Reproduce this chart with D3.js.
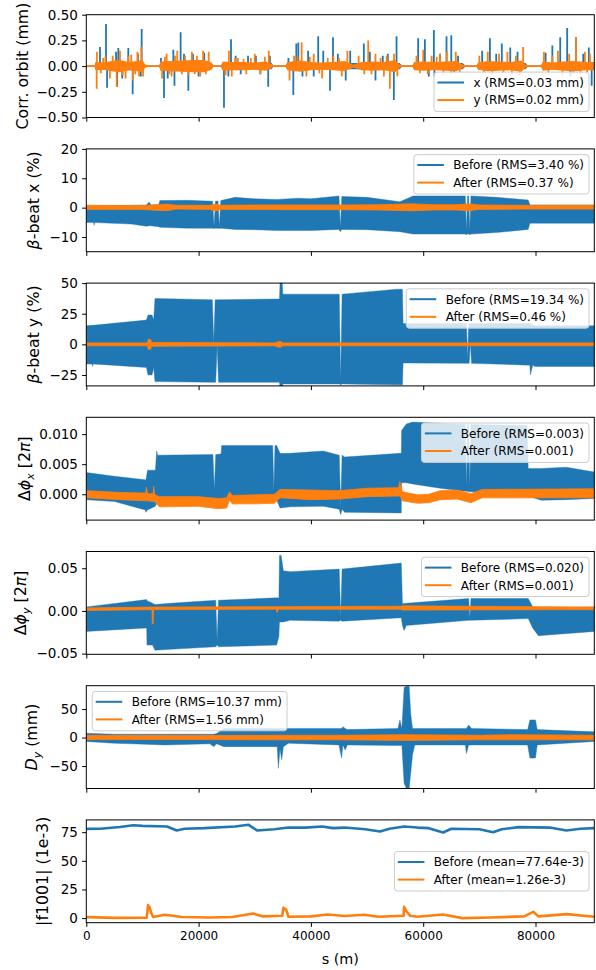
<!DOCTYPE html>
<html>
<head>
<meta charset="utf-8">
<script src="https://cdn.jsdelivr.net/npm/d3@7"></script>
<style>
  body { margin: 0; background: #fff; }
  text { font-family: "DejaVu Sans", sans-serif; fill: #000; }
</style>
</head>
<body>
<script>
// ---- data ----
var sMax = 90470;
var sTicks = [0, 20000, 40000, 60000, 80000];

// corrector orbit: noise envelope [s, amplitude] and the larger spikes [s, value]
var orbitXEnv = [
  [0, 0.006], [1500, 0.006], [1600, 0.03], [6000, 0.04], [10000, 0.04], [10500, 0.006], [13000, 0.006],
  [13200, 0.03], [18000, 0.04], [22300, 0.03], [22600, 0.006], [24000, 0.006], [24300, 0.03], [33000, 0.03],
  [33300, 0.006], [35500, 0.006], [35800, 0.03], [47500, 0.03], [49000, 0.03], [55800, 0.03], [56200, 0.006],
  [58100, 0.006], [58400, 0.03], [67000, 0.03], [67500, 0.006], [69500, 0.006], [69800, 0.03], [78200, 0.03],
  [78600, 0.006], [81000, 0.006], [81300, 0.03], [90470, 0.03]
];
var orbitYEnv = [
  [0, 0.008], [1500, 0.008], [1600, 0.04], [3000, 0.035], [4500, 0.05], [6000, 0.06], [7500, 0.04],
  [9000, 0.05], [10000, 0.06], [10500, 0.015], [11000, 0.008], [13000, 0.008], [13200, 0.045], [15000, 0.05],
  [17000, 0.055], [19000, 0.06], [21000, 0.06], [22300, 0.035], [22600, 0.008], [24000, 0.008], [24300, 0.045],
  [26000, 0.04], [28000, 0.04], [30000, 0.035], [32000, 0.045], [33000, 0.02], [33300, 0.008], [35500, 0.008],
  [35800, 0.04], [38000, 0.055], [40000, 0.04], [42000, 0.035], [44000, 0.04], [46000, 0.05], [47500, 0.015],
  [48000, 0.02], [49000, 0.04], [51000, 0.045], [53000, 0.04], [55000, 0.06], [55800, 0.015], [56200, 0.008],
  [58100, 0.008], [58400, 0.04], [60000, 0.045], [62000, 0.04], [64000, 0.045], [66000, 0.05], [67000, 0.015],
  [67500, 0.008], [69500, 0.008], [69800, 0.035], [71500, 0.05], [73500, 0.045], [75500, 0.04], [77500, 0.055],
  [78200, 0.015], [78600, 0.008], [81000, 0.008], [81300, 0.045], [83000, 0.035], [85000, 0.045], [87000, 0.05],
  [89000, 0.04], [90470, 0.04]
];
var orbitXSpikes = [
  [2440, 0.185], [3510, 0.41], [3700, -0.21], [5300, 0.14], [5500, -0.2], [5700, 0.175], [6400, -0.12],
  [7480, 0.175], [8260, -0.275], [9200, 0.12], [9700, -0.1], [9860, 0.36],
  [13300, 0.08], [13840, -0.31], [14500, -0.12], [15500, 0.16], [15700, -0.19], [16800, 0.33], [17400, 0.12],
  [18170, -0.24], [19000, 0.12], [20000, -0.1], [21000, 0.13],
  [24520, -0.405], [25300, -0.1], [25770, 0.26], [26600, 0.1], [27500, -0.08], [28800, 0.1], [30200, 0.1],
  [31000, -0.08], [32400, -0.2], [32700, 0.1],
  [36000, 0.08], [36870, -0.28], [37400, 0.22], [37760, 0.23], [38500, -0.1], [39500, 0.15], [40500, -0.1],
  [41300, 0.29], [42200, 0.15], [43400, -0.24], [43930, 0.28], [44800, 0.12], [46200, -0.14], [47000, 0.15],
  [49430, 0.22], [50500, 0.14], [51500, -0.14], [52800, 0.1], [53700, 0.12], [54770, -0.33], [55250, 0.29],
  [59100, 0.27], [60300, 0.26], [61000, -0.1], [61900, 0.35], [62000, -0.1], [63000, 0.12], [64150, 0.29],
  [65000, 0.3], [65500, -0.06], [66200, 0.1],
  [70500, 0.15], [71880, 0.27], [73000, 0.12], [74000, 0.22], [75500, 0.18], [76800, 0.14],
  [81800, 0.13], [83000, 0.2], [84400, 0.28], [85640, 0.37], [86200, -0.1], [87200, 0.28], [88500, 0.12],
  [89500, 0.18], [90000, -0.19]
];
var orbitYSpikes = [
  [1850, -0.22], [1900, 0.14], [2600, -0.07], [3000, 0.08], [3400, 0.09], [4200, -0.12], [4700, 0.1],
  [5410, -0.2], [6000, 0.15], [6500, -0.09], [7000, -0.12], [7500, 0.1], [8000, 0.11], [8300, -0.14],
  [8700, -0.08], [9100, 0.14], [9400, -0.1], [9800, 0.185], [10100, -0.1],
  [13500, -0.12], [14000, 0.09], [14300, 0.12], [14800, -0.08], [15200, -0.1], [15800, 0.1], [16200, 0.15],
  [17000, -0.08], [17600, 0.1], [18200, -0.09], [18800, 0.14], [19300, -0.08], [19700, 0.1], [20300, -0.1],
  [20800, 0.15], [21300, -0.08], [21800, 0.14],
  [24800, -0.09], [25400, 0.15], [25900, -0.1], [26500, 0.08], [27000, 0.08], [28000, 0.07], [28500, -0.08],
  [29300, 0.08], [30000, 0.12], [31000, -0.08], [31800, 0.09], [32500, 0.15],
  [36200, -0.14], [37000, 0.1], [37600, 0.1], [38350, 0.23], [39200, -0.1], [39800, 0.09], [40500, 0.12],
  [41500, -0.07], [42000, -0.12], [43000, 0.08], [44000, 0.1], [45000, 0.08], [45500, -0.1], [46500, 0.15],
  [48500, 0.1], [49500, -0.08], [50200, 0.25], [50800, -0.08], [51500, 0.12], [52400, 0.08], [53000, -0.1],
  [53500, 0.1], [54070, -0.22], [54800, 0.12], [55400, -0.1],
  [58800, 0.1], [59400, -0.07], [60000, 0.16], [60800, -0.08], [61500, 0.1], [62400, 0.09], [63000, 0.12],
  [63600, -0.08], [64200, 0.14], [65000, -0.08], [65800, 0.14], [66500, -0.06],
  [70000, 0.1], [70800, -0.07], [71500, 0.14], [72300, -0.08], [73500, 0.12], [74300, -0.07], [75000, 0.14],
  [75800, -0.08], [76500, 0.1], [77200, -0.09], [77800, 0.185],
  [81500, 0.14], [82300, -0.08], [83000, 0.1], [84000, 0.15], [84800, -0.09], [86000, 0.12], [86700, -0.08],
  [87200, 0.28], [88000, -0.08], [88800, 0.14], [89200, -0.07], [89700, 0.12]
];

// envelopes of the dense signals: [s, low, high]
var betaXBefore = [
  [0, -5.1, 0.6], [1300, -5.1, 0.6], [1400, -6, 0.6], [1500, -5.1, 0.6], [8000, -5.6, 0.8], [10700, -6.3, 0.9],
  [11200, -6.2, 1.9], [11500, -6.2, 0.9], [12900, -6.5, 1.0], [13100, -6.7, 2.4], [18000, -7.0, 2.5],
  [22500, -7.0, 2.2], [22750, -7.1, -6.4], [23000, -7.0, 2.2], [23450, -7.0, 2.3], [23700, -7.1, -6.4],
  [23950, -7.0, 2.4], [26500, -7.4, 3.5], [30000, -7.5, 3.0], [34000, -7.8, 2.8], [37700, -7.8, 3.2],
  [40000, -7.8, 3.0], [45000, -7.4, 4.0], [45250, -8.2, -6.8], [45500, -7.4, 3.8], [50000, -7.5, 3.5],
  [55850, -8.2, 2.0], [58200, -9.0, 4.0], [65000, -9.0, 4.0], [67500, -9.0, 4.0], [67700, -9.2, -7.8],
  [67900, -9.0, 4.0], [68100, -9.0, 4.0], [68300, -9.2, -7.8], [68500, -9.0, 4.0],
  [73080, -8.5, 3.5], [78700, -7.4, 2.6], [79000, -5.3, 0.9], [90470, -5.3, 0.9]
];
var betaXAfter = [
  [0, -0.6, 0.8], [10000, -0.6, 0.7], [13000, -1.0, 1.1], [14500, -1.0, 1.2], [16000, -0.5, 0.8],
  [22000, -0.6, 0.8], [23000, -1.2, 1.2], [24000, -0.6, 0.8], [30000, -0.6, 0.9], [36280, -0.7, 0.9],
  [45000, -0.7, 0.9], [52000, -0.8, 1.0], [58000, -1.1, 1.3], [62000, -0.8, 1.0], [66000, -0.8, 1.0],
  [68000, -1.1, 1.3], [70000, -0.6, 0.9], [79000, -0.5, 0.8], [90470, -0.5, 0.8]
];
var betaYBefore = [
  [0, -16, 15.2], [1000, -16, 15.5], [1100, -18, 15.5], [1200, -16, 15.5], [10700, -18.8, 19.8],
  [11000, -25, 24], [11700, -25, 24], [12000, -19, 20], [12230, -30.4, 37.5], [22450, -31, 36.4],
  [22700, -31, 1], [22950, -31, 36.4], [23050, -31, 36.4], [23300, -1, 36.4], [23550, -31, 36.4],
  [33900, -31, 37], [34400, -31, 37], [34500, -35, 50], [34900, -35, 50], [35000, -32.3, 41],
  [45050, -32.3, 41], [45300, -33, -30], [45550, -32.3, 41], [55250, -33, 45], [56300, -33, 45],
  [56420, -15.2, 17], [67700, -15.5, 17], [67900, -15.5, -12], [68100, -15.5, 17], [68200, -15.5, 17],
  [68400, 2, 17], [68600, -15.5, 17],
  [79000, -17, 17], [79100, -25, 17], [79500, -17, 16], [79900, -18, 15.2], [90470, -18, 15.2]
];
var betaYAfter = [
  [0, -1.2, 1.2], [10900, -1.2, 1.2], [11000, -4, 4], [11500, -4, 4], [11600, -1.5, 1.5],
  [33500, -1.2, 1.2], [34500, -2.5, 2.5], [35000, -1.2, 1.2], [90470, -1.2, 1.2]
];
var dphiXBefore = [
  [0, -0.0009, 0.0036], [5000, -0.0012, 0.0030], [10500, -0.0026, 0.0024], [10600, -0.0030, 0.0023],
  [10900, -0.0026, 0.0040], [12300, -0.0020, 0.0040], [12530, -0.0015, 0.0072], [12700, -0.0014, 0.0065],
  [22550, -0.0014, 0.0066], [22800, -0.0014, 0.0007], [23050, -0.0014, 0.0066],
  [24000, -0.0010, 0.0067], [24100, -0.0009, 0.0081], [33200, -0.0009, 0.0081], [33400, -0.0009, 0.0005],
  [33600, -0.0009, 0.0081], [33900, -0.0009, 0.0081],
  [34500, -0.0023, 0.0068], [36300, -0.0021, 0.0068], [42200, -0.0020, 0.0072], [45050, -0.0025, 0.0065],
  [45300, -0.0034, -0.0022], [45550, -0.0025, 0.0065],
  [46000, -0.0030, 0.0062], [55850, -0.0031, 0.0068], [56100, -0.0031, 0.0068], [56150, 0.0019, 0.0106],
  [57000, 0.0019, 0.0117], [58100, 0.0017, 0.0120], [63000, 0.0010, 0.0118], [67500, 0.0005, 0.0116],
  [67700, 0.0005, 0.0012], [67900, 0.0005, 0.0116], [68100, 0.0004, 0.0116], [68300, 0.0004, 0.0012],
  [68500, 0.0004, 0.0116],
  [78500, 0.0000, 0.0114], [78700, -0.0003, 0.0043], [81000, -0.0010, 0.0043], [85500, -0.0009, 0.0045],
  [90470, -0.0007, 0.0037]
];
var dphiXAfter = [
  [0, -0.0006, 0.0006], [6000, -0.0009, 0.0003], [10600, -0.0011, 0.0002], [10700, -0.0011, 0.0012],
  [10900, -0.0011, 0.0001], [11900, -0.0012, 0.0001], [12000, -0.0012, 0.0013], [12200, -0.0013, -0.0001],
  [13000, -0.0021, -0.0004], [20000, -0.0020, -0.0004], [23500, -0.0024, -0.0007], [25000, -0.0023, -0.0006],
  [25500, -0.0010, 0.0004], [26000, -0.0016, -0.0002], [30000, -0.0016, -0.0001], [33500, -0.0015, 0.0000],
  [34500, -0.0006, 0.0008], [40000, -0.0009, 0.0007], [45000, -0.0008, 0.0006], [50000, -0.0004, 0.0010],
  [55600, -0.0003, 0.0011], [55850, -0.0003, 0.0021], [56300, -0.0011, 0.0004], [59000, -0.0015, -0.0001],
  [61000, -0.0014, 0.0000], [63000, -0.0009, 0.0006], [66000, -0.0008, 0.0007], [68500, -0.0014, 0.0001],
  [70500, -0.0006, 0.0008], [90470, -0.0006, 0.0009]
];
var dphiYBefore = [
  [0, -0.024, 0.0047], [10750, -0.020, 0.0133], [10800, -0.040, 0.012], [11800, -0.040, 0.009],
  [12230, -0.046, 0.0075], [15000, -0.045, 0.009], [23050, -0.042, 0.0125], [23300, -0.040, -0.035],
  [23550, -0.042, 0.0125], [33900, -0.040, 0.0153],
  [34300, -0.030, 0.015], [34400, -0.013, 0.065], [34700, -0.013, 0.065], [35100, -0.013, 0.047],
  [36300, -0.011, 0.046], [45050, -0.012, 0.049], [45300, -0.011, -0.008], [45550, -0.012, 0.049],
  [56100, -0.008, 0.056], [56300, -0.017, 0.0086],
  [56600, -0.023, 0.0086], [57000, -0.017, 0.009], [68100, -0.011, 0.0145], [68300, -0.011, -0.009],
  [68500, -0.011, 0.0145], [78700, -0.009, 0.0145],
  [79500, -0.020, 0.005], [80500, -0.029, 0.0027], [90470, -0.024, 0.0047]
];
var dphiYAfter = [
  [0, 0.0005, 0.0035], [11700, 0.0015, 0.0045], [11750, -0.015, 0.0045], [11900, -0.015, 0.0045],
  [12000, 0.0015, 0.0045], [33800, 0.002, 0.005], [34000, -0.002, 0.005], [34200, 0.002, 0.005],
  [56000, 0.002, 0.0055], [56300, 0.001, 0.006], [90470, 0.0015, 0.0045]
];
var dispYBefore = [
  [0, -7, 7.6], [5000, -10, 5.9], [8000, -11, 5.9], [14000, -13, 5.9], [22000, -11, 6], [22700, -16, 6],
  [23200, -11, 7], [24500, -16, 16], [34000, -16, 16], [34200, -54, 16], [34500, -20, 16], [34800, -39, 16],
  [35100, -16, 16], [36000, -10, 16], [45000, -13, 16], [45460, -36, 16], [45700, -13, 19], [46100, -22, 16],
  [46500, -13, 14], [55500, -14, 16], [55850, -14, 31], [56200, -14, 16], [56600, -80, 88], [57000, -89, 90],
  [57500, -89, 90], [57800, -60, 40], [58100, -30, 16], [58500, -13, 16], [67500, -13, 16], [67700, -28, 16],
  [68100, -13, 22], [68600, -13, 16], [78600, -13, 14], [79000, -36, 31], [80000, -36, 31], [80300, -13, 14],
  [90470, -7, 10]
];
var dispYAfter = [
  [0, -3.5, 4], [10000, -3.5, 3.5], [20000, -3.5, 3.5], [34000, -4, 4], [45000, -4, 4], [57000, -5, 5],
  [70000, -4, 4], [76000, -4, 5], [90470, -4, 4]
];
var f1001Before = [
  [0, 77.9], [2500, 78], [6000, 79.5], [8370, 81.1], [10000, 80.5], [14370, 80], [16100, 76.5], [17500, 78],
  [21000, 78.5], [26500, 80], [28900, 81.4], [30400, 76.5], [33500, 77.5], [36000, 79], [39000, 79],
  [42000, 80], [43930, 78.5], [46000, 79], [49700, 77.5], [52300, 75.6], [54000, 78], [56600, 80], [59000, 79],
  [61000, 78.5], [63550, 74.7], [65000, 78], [70000, 77.5], [72450, 75], [74000, 77.5], [77000, 79.4],
  [82550, 79], [85500, 76.5], [88000, 78], [90470, 78.5]
];
var f1001After = [
  [0, 0.9], [5000, 0.2], [10750, 0.3], [11000, 11.3], [11300, 9], [11600, 4], [11900, 1], [14000, 2.9],
  [17000, 1], [22000, 0.5], [26000, 1], [29700, 4], [31500, 1.5], [34900, 2], [35100, 9], [35600, 7.5],
  [36000, 1.2], [40000, 1.5], [43000, 3.2], [46000, 1.8], [49500, 2.9], [52000, 1.2], [56500, 2], [56600, 9.8],
  [57000, 6], [57700, 2], [59000, 1.2], [63500, 3.2], [67000, 0], [72000, 0.6], [78000, 1.5], [79600, 5.5],
  [80500, 1.5], [85500, 3.5], [90470, 1.2]
];

var legendOrbit = ["x (RMS=0.03 mm)", "y (RMS=0.02 mm)"];
var legendBetaX = ["Before (RMS=3.40 %)", "After (RMS=0.37 %)"];
var legendBetaY = ["Before (RMS=19.34 %)", "After (RMS=0.46 %)"];
var legendDphiX = ["Before (RMS=0.003)", "After (RMS=0.001)"];
var legendDphiY = ["Before (RMS=0.020)", "After (RMS=0.001)"];
var legendDispY = ["Before (RMS=10.37 mm)", "After (RMS=1.56 mm)"];
var legendF1001 = ["Before (mean=77.64e-3)", "After (mean=1.26e-3)"];

var ticksOrbit = [-0.5, -0.25, 0, 0.25, 0.5];
var ticksBetaX = [-10, 0, 10, 20];
var ticksBetaY = [-25, 0, 25, 50];
var ticksDphiX = [0, 0.005, 0.01];
var ticksDphiY = [-0.05, 0, 0.05];
var ticksDispY = [-50, 0, 50];
var ticksF1001 = [0, 25, 50, 75];

// ---- layout ----
var W = 596, H = 970;
var left = 86.3, right = 594.3;
var top0 = 14.7, step = 134.2, ph = 102.8;
var blue = "#1f77b4", orange = "#ff7f0e";

var svg = d3.select("body").append("svg")
    .attr("width", W)
    .attr("height", H);

var x = d3.scaleLinear().domain([0, sMax]).range([left, right]);

var panels = [
  {kind: "orbit", domain: [-0.5, 0.5], ticks: ticksOrbit, fmt: ".2f", legend: legendOrbit, loc: "lower right",
   label: [["Corr. orbit (mm)"]], labelX: 22},
  {kind: "band", a: betaXBefore, b: betaXAfter, domain: [-15, 20], ticks: ticksBetaX, fmt: "d", legend: legendBetaX,
   loc: "upper right", label: [["β", "i"], ["-beat x (%)"]], labelX: 33.7},
  {kind: "band", a: betaYBefore, b: betaYAfter, domain: [-33.9, 50], ticks: ticksBetaY, fmt: "d", legend: legendBetaY,
   loc: "upper right", label: [["β", "i"], ["-beat y (%)"]], labelX: 33.7},
  {kind: "band", a: dphiXBefore, b: dphiXAfter, domain: [-0.0043, 0.0128], ticks: ticksDphiX, fmt: ".3f", legend: legendDphiX,
   loc: "upper right", label: [["Δ"], ["ϕ", "i"], ["x", "sub"], [" [2"], ["π", "i"], ["]"]], labelX: 24.5},
  {kind: "band", a: dphiYBefore, b: dphiYAfter, domain: [-0.0508, 0.0696], ticks: ticksDphiY, fmt: ".2f", legend: legendDphiY,
   loc: "upper right", label: [["Δ"], ["ϕ", "i"], ["y", "sub"], [" [2"], ["π", "i"], ["]"]], labelX: 20.8},
  {kind: "band", a: dispYBefore, b: dispYAfter, domain: [-89.4, 91], ticks: ticksDispY, fmt: "d", legend: legendDispY,
   loc: "upper left", label: [["D", "i"], ["y", "sub"], [" (mm)"]], labelX: 31.3},
  {kind: "line", a: f1001Before, b: f1001After, domain: [-4, 85.7], ticks: ticksF1001, fmt: "d", legend: legendF1001,
   loc: "center right", label: [["|f1001| (1e-3)"]], labelX: 42.5}
];

panels.forEach(function (p, i) {
    var top = top0 + i * step, bottom = top + ph;
    var y = d3.scaleLinear().domain(p.domain).range([bottom, top]);
    var g = svg.append("g");

    svg.append("clipPath").attr("id", "clip" + i)
      .append("rect").attr("x", left).attr("y", top).attr("width", right - left).attr("height", ph);
    var plot = g.append("g").attr("clip-path", "url(#clip" + i + ")");

    var area = d3.area()
        .x(function (d) { return x(d[0]); })
        .y0(function (d) { return y(d[1]); })
        .y1(function (d) { return y(d[2]); });
    var symArea = d3.area()
        .x(function (d) { return x(d[0]); })
        .y0(function (d) { return y(-d[1]); })
        .y1(function (d) { return y(d[1]); });

    if (p.kind === "orbit") {
        [[orbitXEnv, orbitXSpikes, blue], [orbitYEnv, orbitYSpikes, orange]].forEach(function (s) {
            plot.append("path").attr("d", symArea(s[0])).attr("fill", s[2]);
            plot.append("g").selectAll("line").data(s[1]).enter().append("line")
                .attr("x1", function (d) { return x(d[0]); }).attr("x2", function (d) { return x(d[0]); })
                .attr("y1", y(0)).attr("y2", function (d) { return y(d[1]); })
                .attr("stroke", s[2]).attr("stroke-width", 1.8);
        });
    } else if (p.kind === "band") {
        [[p.a, blue, 0.4], [p.b, orange, 0.8]].forEach(function (s) {
            plot.append("path").attr("d", area(s[0]))
                .attr("fill", s[1]).attr("stroke", s[1]).attr("stroke-width", s[2]);
        });
    } else {
        var line = d3.line()
            .x(function (d) { return x(d[0]); })
            .y(function (d) { return y(d[1]); });
        [[p.a, blue], [p.b, orange]].forEach(function (s) {
            plot.append("path").attr("d", line(s[0]))
                .attr("fill", "none").attr("stroke", s[1]).attr("stroke-width", 2.6)
                .attr("stroke-linejoin", "round");
        });
    }

    // axes
    var yAxis = d3.axisLeft(y).tickValues(p.ticks).tickSize(4.2).tickPadding(4.2)
        .tickFormat(d3.format(p.fmt));
    var ya = g.append("g").attr("transform", "translate(" + left + ",0)").call(yAxis);
    var xAxis = d3.axisBottom(x).tickValues(sTicks).tickSize(4.2).tickPadding(4.2)
        .tickFormat(i === panels.length - 1 ? d3.format("d") : "");
    var xa = g.append("g").attr("transform", "translate(0," + bottom + ")").call(xAxis);
    [ya, xa].forEach(function (a) {
        a.select(".domain").remove();
        a.selectAll(".tick line").attr("stroke", "#000").attr("stroke-width", 1);
        a.selectAll("text").attr("font-family", "DejaVu Sans").attr("fill", "#000");
    });
    ya.selectAll("text").attr("font-size", 13.5);
    xa.selectAll("text").attr("font-size", 12);

    g.append("rect").attr("x", left).attr("y", top).attr("width", right - left).attr("height", ph)
        .attr("fill", "none").attr("stroke", "#000").attr("stroke-width", 1);

    // y label
    var lab = g.append("text")
        .attr("transform", "translate(" + p.labelX + "," + (top + ph / 2) + ") rotate(-90)")
        .attr("text-anchor", "middle").attr("font-size", 15.8).attr("dy", "0.35em");
    p.label.forEach(function (seg, k) {
        var t = lab.append("tspan").text(seg[0]);
        if (seg[1] === "i") t.attr("font-style", "italic");
        if (seg[1] === "sub") t.attr("font-style", "italic").attr("font-size", 11).attr("dy", 3.8);
        if (k > 0 && p.label[k - 1][1] === "sub") t.attr("dy", -3.8);
    });

    // legend
    var lg = g.append("g");
    var box = lg.append("rect").attr("rx", 3).attr("fill", "#fff").attr("fill-opacity", 0.8)
        .attr("stroke", "#cccccc").attr("stroke-width", 1);
    var tw = 0;
    p.legend.forEach(function (txt, k) {
        var t = lg.append("text").attr("x", 39.4).attr("y", 10.4 + k * 17.6).attr("dy", "0.36em")
            .attr("font-size", 12).text(txt);
        tw = Math.max(tw, t.node().getComputedTextLength());
        lg.append("line").attr("x1", 3.4).attr("x2", 30).attr("y1", 10.4 + k * 17.6).attr("y2", 10.4 + k * 17.6)
            .attr("stroke", k === 0 ? blue : orange).attr("stroke-width", 2);
    });
    var bw = 39.4 + tw + 5, bh = 39.4;
    box.attr("width", bw).attr("height", bh);
    var lx = p.loc.indexOf("left") >= 0 ? left + 6 : right - 5.3 - bw;
    var ly = p.loc.indexOf("upper") === 0 ? top + 5.7 : (p.loc.indexOf("lower") === 0 ? bottom - 6 - bh : top + ph / 2 - bh / 2);
    lg.attr("transform", "translate(" + lx + "," + ly + ")");
});

svg.append("text").attr("x", (left + right) / 2).attr("y", 964).attr("text-anchor", "middle")
    .attr("font-size", 14.4).text("s (m)");
</script>
</body>
</html>
